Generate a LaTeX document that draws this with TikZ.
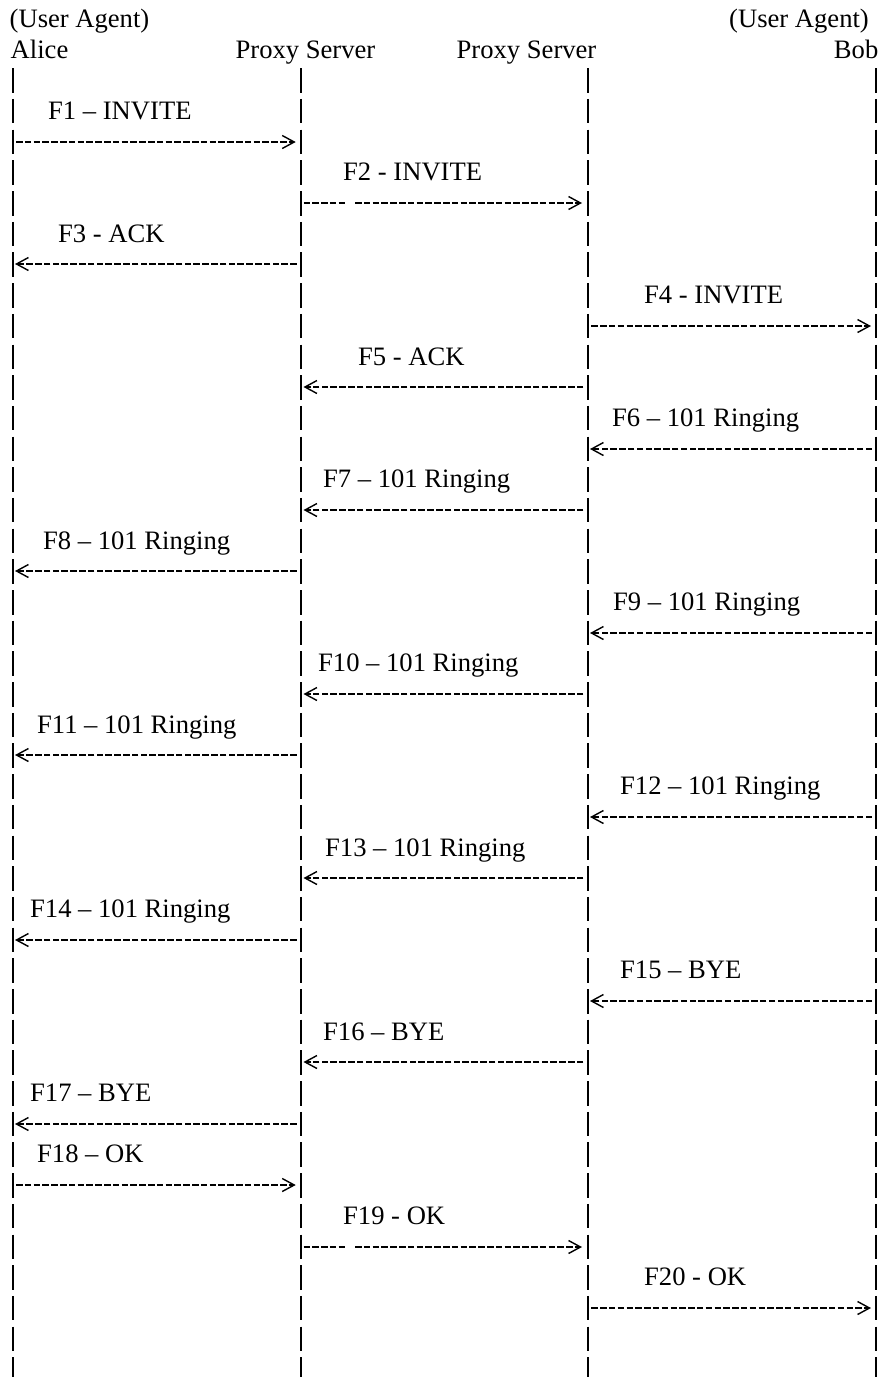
\documentclass[tikz,border=0pt]{standalone}
\usepackage{fontspec}
\setmainfont{Liberation Serif}
\usetikzlibrary{arrows.meta}
\begin{document}
\begin{tikzpicture}[x=1pt,y=-1pt,
  lbl/.style={anchor=base west,inner sep=0pt,font=\fontsize{26.6}{30}\selectfont},
  lble/.style={anchor=base east,inner sep=0pt,font=\fontsize{26.6}{30}\selectfont},
  life/.style={line width=1.6pt,dash pattern=on 24.5pt off 6.19pt},
  dashline/.style={line width=2pt,dash pattern=on 6.5pt off 2.3pt},
  msg/.style={dashline,-{Straight Barb[length=12pt,width=13pt,line width=1.4pt]}}]
\useasboundingbox (0,0) rectangle (885,1377);

% header
\node[lbl] (uaA) at (9.5,27.4) {(User Agent)};
\node[lble] (uaB) at (869,27.4) {(User Agent)};
\node[lbl] (alice) at (10.5,58.1) {Alice};
\node[lbl] (px1) at (235.5,58.1) {Proxy Server};
\node[lbl] (px2) at (456.5,58.1) {Proxy Server};
\node[lble] (bob) at (878.5,58.1) {Bob};

% lifelines
\coordinate (aT) at (13,68.3);  \coordinate (aB) at (13,1377);
\coordinate (pT) at (301,68.3); \coordinate (pB) at (301,1377);
\coordinate (qT) at (588,68.3); \coordinate (qB) at (588,1377);
\coordinate (bT) at (876,68.3); \coordinate (bB) at (876,1377);
\draw[life] (aT) -- (aB);
\draw[life] (pT) -- (pB);
\draw[life] (qT) -- (qB);
\draw[life] (bT) -- (bB);

% labels
\foreach \n/\x/\t in {
  1/48/{F1 – INVITE},
  2/343/{F2 - INVITE},
  3/58/{F3 - ACK},
  4/644/{F4 - INVITE},
  5/358/{F5 - ACK},
  6/612/{F6 – 101 Ringing},
  7/323/{F7 – 101 Ringing},
  8/43/{F8 – 101 Ringing},
  9/613/{F9 – 101 Ringing},
  10/318/{F10 – 101 Ringing},
  11/37/{F11 – 101 Ringing},
  12/620/{F12 – 101 Ringing},
  13/325/{F13 – 101 Ringing},
  14/30/{F14 – 101 Ringing},
  15/620/{F15 – BYE},
  16/323/{F16 – BYE},
  17/30/{F17 – BYE},
  18/37/{F18 – OK},
  19/343/{F19 - OK},
  20/644/{F20 - OK}}
  \node[lbl] (l\n) at (\x,{58.1+61.38*\n}) {\t};

% messages: n / start x / end x
\foreach \n/\s/\e in {
  1/16/295.7, 3/296.7/15, 4/591.3/871,
  5/583.3/303.5, 6/872/590, 7/583.3/303.5, 8/296.7/15,
  9/872/590, 10/583.3/303.5, 11/296.7/15,
  12/872/590, 13/583.3/303.5, 14/296.7/15,
  15/872/590, 16/583.3/303.5, 17/296.7/15,
  18/16/295.7, 20/591.3/871}
{
  \pgfmathsetmacro{\yy}{round(80.3+61.38*\n)}
  \coordinate (m\n s) at (\s,\yy);
  \coordinate (m\n e) at (\e,\yy);
  \draw[msg] (m\n s) -- (m\n e);
}
% messages with a gap (F2, F19)
\foreach \n in {2,19}
{
  \pgfmathsetmacro{\yy}{round(80.3+61.38*\n)}
  \coordinate (m\n s) at (303.5,\yy);
  \coordinate (m\n g) at (345,\yy);
  \coordinate (m\n h) at (355,\yy);
  \coordinate (m\n e) at (582,\yy);
  \draw[dashline] (m\n s) -- (m\n g);
  \draw[msg] (m\n h) -- (m\n e);
}
\end{tikzpicture}
\end{document}
